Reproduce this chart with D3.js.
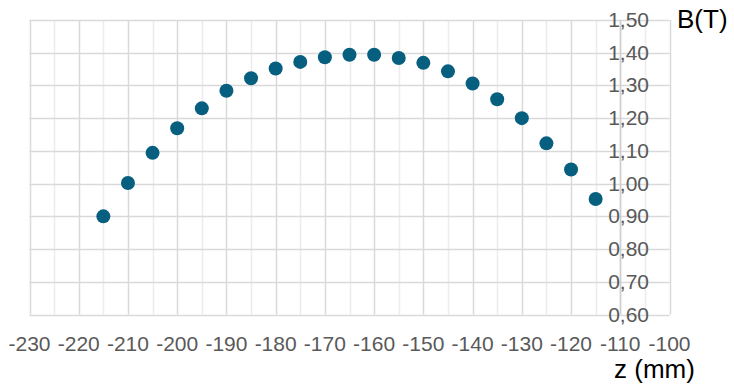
<!DOCTYPE html>
<html>
<head>
<meta charset="utf-8">
<script src="https://cdn.jsdelivr.net/npm/d3@7"></script>
<style>
	html, body { margin: 0; padding: 0; background: #fff; }
	svg { display: block; font-family: "Liberation Sans", Arial, sans-serif; }
</style>
</head>
<body>
<svg id="chart" width="734" height="389"></svg>
<script>
// positions z (mm) and measured field B (T)
var zValues = [-215, -210, -205, -200, -195, -190, -185, -180, -175, -170, -165,
	-160, -155, -150, -145, -140, -135, -130, -125, -120, -115];
var bValues = [0.900, 1.002, 1.094, 1.169, 1.230, 1.284, 1.322, 1.352, 1.372, 1.386, 1.394,
	1.394, 1.384, 1.369, 1.343, 1.306, 1.258, 1.200, 1.123, 1.043, 0.953];
var xTicks = [-230, -220, -210, -200, -190, -180, -170, -160, -150, -140, -130, -120, -110, -100];
var yTicks = [0.6, 0.7, 0.8, 0.9, 1.0, 1.1, 1.2, 1.3, 1.4, 1.5];

var svg = d3.select("#chart");
var x = d3.scaleLinear().domain([-230, -100]).range([29.5, 669.5]);
var y = d3.scaleLinear().domain([0.6, 1.5]).range([314.5, 20]);
var fmt = function(v){ return d3.format(".2f")(v).replace(".", ","); };

// minor vertical grid (every 5 mm)
var minor = d3.range(-225, -100, 10);
svg.append("g").selectAll("line").data(minor).enter().append("line")
	.attr("x1", function(d){ return Math.round(x(d)) + 0.5; })
	.attr("x2", function(d){ return Math.round(x(d)) + 0.5; })
	.attr("y1", y(1.5)).attr("y2", y(0.6))
	.attr("stroke", "#ececec").attr("stroke-width", 1.5);

// major grid
svg.append("g").selectAll("line").data(xTicks).enter().append("line")
	.attr("x1", function(d){ return Math.round(x(d)) + 0.5; })
	.attr("x2", function(d){ return Math.round(x(d)) + 0.5; })
	.attr("y1", y(1.5)).attr("y2", y(0.6))
	.attr("stroke", "#d9d9d9").attr("stroke-width", 1.5);
svg.append("g").selectAll("line").data(yTicks).enter().append("line")
	.attr("x1", x(-230)).attr("x2", x(-100))
	.attr("y1", function(d){ return Math.round(y(d)) + 0.5; })
	.attr("y2", function(d){ return Math.round(y(d)) + 0.5; })
	.attr("stroke", "#d9d9d9").attr("stroke-width", 1.5);

// y axis line at z = -110
svg.append("line")
	.attr("x1", Math.round(x(-110)) + 0.5).attr("x2", Math.round(x(-110)) + 0.5)
	.attr("y1", y(1.5)).attr("y2", y(0.6))
	.attr("stroke", "#cfcfcf").attr("stroke-width", 1.5);

// x tick labels
svg.append("g").selectAll("text").data(xTicks).enter().append("text")
	.attr("x", function(d){ return x(d); })
	.attr("y", 351)
	.attr("text-anchor", "middle")
	.attr("font-size", 21)
	.attr("fill", "#595959")
	.text(function(d){ return d; });

// y tick labels
svg.append("g").selectAll("text").data(yTicks).enter().append("text")
	.attr("x", 649)
	.attr("y", function(d){ return y(d) + 7; })
	.attr("text-anchor", "end")
	.attr("font-size", 21)
	.attr("fill", "#595959")
	.text(fmt);

// points
svg.append("g").selectAll("circle").data(zValues).enter().append("circle")
	.attr("cx", function(d){ return x(d); })
	.attr("cy", function(d, i){ return y(bValues[i]); })
	.attr("r", 7)
	.attr("fill", "#075f80");

// axis titles
svg.append("text").attr("x", 677).attr("y", 28)
	.attr("font-size", 26).attr("fill", "#000").text("B(T)");
svg.append("text").attr("x", 614).attr("y", 378)
	.attr("font-size", 26).attr("fill", "#000").text("z (mm)");
</script>
</body>
</html>
